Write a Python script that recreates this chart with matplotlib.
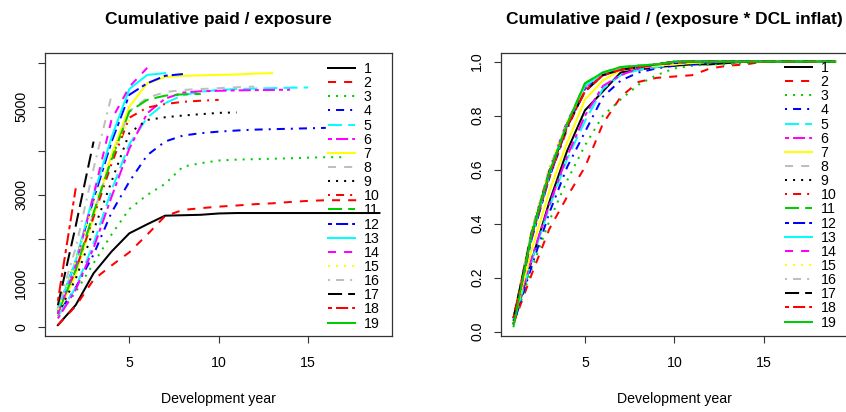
import matplotlib
matplotlib.use("Agg")
import matplotlib.pyplot as plt

plt.rcParams['font.family'] = ['Liberation Sans', 'DejaVu Sans']

# cumulative paid / exposure, one row per origin year (dev years 1..n)
paid = [
    [50, 505, 1225, 1715, 2130, 2335, 2530, 2540, 2550, 2580, 2590, 2590, 2590, 2590, 2590, 2590, 2590, 2590, 2590],
    [50, 480, 1080, 1400, 1700, 2100, 2520, 2660, 2700, 2735, 2760, 2790, 2810, 2840, 2865, 2880, 2880, 2880],
    [250, 800, 1450, 2100, 2680, 3000, 3250, 3640, 3720, 3780, 3800, 3810, 3820, 3830, 3845, 3855, 3855],
    [300, 900, 1650, 2600, 3300, 3900, 4210, 4345, 4400, 4435, 4460, 4480, 4490, 4500, 4510, 4520],
    [250, 900, 1900, 3100, 4150, 4750, 5080, 5260, 5340, 5380, 5400, 5410, 5420, 5430, 5435],
    [200, 850, 1800, 2950, 4050, 4850, 5180, 5320, 5350, 5360, 5370, 5375, 5380, 5385],
    [300, 1200, 2500, 3900, 5000, 5530, 5670, 5700, 5710, 5720, 5730, 5750, 5760],
    [350, 1300, 2600, 3800, 4900, 5200, 5330, 5380, 5400, 5420, 5440, 5455],
    [300, 1100, 2200, 3300, 4400, 4700, 4760, 4800, 4830, 4860, 4870],
    [350, 1300, 2500, 3700, 4750, 4980, 5060, 5110, 5135, 5155],
    [350, 1300, 2600, 3800, 4890, 5155, 5250, 5280, 5290],
    [400, 1500, 2900, 4200, 5270, 5530, 5700, 5740],
    [400, 1500, 3000, 4300, 5400, 5720, 5760],
    [300, 1400, 3000, 4700, 5450, 5880],
    [400, 1500, 2800, 3900, 4700],
    [450, 1800, 3600, 5250],
    [500, 2300, 4210],
    [600, 3150],
    [150],
]

# cumulative paid / (exposure * DCL inflation), full development
ratio = [
    [0.03, 0.26, 0.48, 0.67, 0.82, 0.89, 0.96, 0.97, 0.98, 0.985, 0.99, 0.99, 0.995, 1.0, 1.0, 1.0, 1.0, 1.0, 1.0],
    [0.03, 0.21, 0.38, 0.50, 0.61, 0.77, 0.87, 0.925, 0.94, 0.945, 0.95, 0.975, 0.985, 0.99, 1.0, 1.0, 1.0, 1.0, 1.0],
    [0.03, 0.23, 0.41, 0.56, 0.69, 0.80, 0.86, 0.915, 0.95, 0.975, 0.985, 0.99, 0.99, 0.995, 1.0, 1.0, 1.0, 1.0, 1.0],
    [0.03, 0.24, 0.44, 0.61, 0.74, 0.87, 0.93, 0.96, 0.975, 0.985, 0.99, 0.995, 1.0, 1.0, 1.0, 1.0, 1.0, 1.0, 1.0],
    [0.04, 0.26, 0.46, 0.64, 0.78, 0.90, 0.95, 0.97, 0.98, 0.99, 0.995, 1.0, 1.0, 1.0, 1.0, 1.0, 1.0, 1.0, 1.0],
    [0.04, 0.27, 0.47, 0.65, 0.80, 0.91, 0.95, 0.975, 0.985, 0.99, 1.0, 1.0, 1.0, 1.0, 1.0, 1.0, 1.0, 1.0, 1.0],
    [0.04, 0.30, 0.52, 0.70, 0.86, 0.93, 0.97, 0.98, 0.985, 0.99, 0.995, 1.0, 1.0, 1.0, 1.0, 1.0, 1.0, 1.0, 1.0],
    [0.05, 0.35, 0.58, 0.76, 0.90, 0.95, 0.975, 0.98, 0.99, 0.995, 1.0, 1.0, 1.0, 1.0, 1.0, 1.0, 1.0, 1.0, 1.0],
    [0.05, 0.36, 0.59, 0.77, 0.90, 0.95, 0.97, 0.98, 0.99, 0.995, 1.0, 1.0, 1.0, 1.0, 1.0, 1.0, 1.0, 1.0, 1.0],
    [0.05, 0.35, 0.57, 0.75, 0.90, 0.95, 0.975, 0.985, 0.99, 0.995, 1.0, 1.0, 1.0, 1.0, 1.0, 1.0, 1.0, 1.0, 1.0],
    [0.05, 0.36, 0.59, 0.77, 0.92, 0.96, 0.98, 0.985, 0.99, 1.0, 1.0, 1.0, 1.0, 1.0, 1.0, 1.0, 1.0, 1.0, 1.0],
    [0.04, 0.34, 0.57, 0.76, 0.90, 0.95, 0.975, 0.98, 0.99, 0.995, 1.0, 1.0, 1.0, 1.0, 1.0, 1.0, 1.0, 1.0, 1.0],
    [0.05, 0.35, 0.58, 0.77, 0.91, 0.955, 0.975, 0.985, 0.99, 1.0, 1.0, 1.0, 1.0, 1.0, 1.0, 1.0, 1.0, 1.0, 1.0],
    [0.05, 0.37, 0.60, 0.78, 0.90, 0.95, 0.97, 0.98, 0.99, 1.0, 1.0, 1.0, 1.0, 1.0, 1.0, 1.0, 1.0, 1.0, 1.0],
    [0.06, 0.38, 0.61, 0.78, 0.89, 0.95, 0.97, 0.98, 0.99, 1.0, 1.0, 1.0, 1.0, 1.0, 1.0, 1.0, 1.0, 1.0, 1.0],
    [0.05, 0.37, 0.60, 0.77, 0.90, 0.95, 0.975, 0.985, 0.99, 1.0, 1.0, 1.0, 1.0, 1.0, 1.0, 1.0, 1.0, 1.0, 1.0],
    [0.05, 0.36, 0.59, 0.76, 0.89, 0.95, 0.97, 0.98, 0.99, 1.0, 1.0, 1.0, 1.0, 1.0, 1.0, 1.0, 1.0, 1.0, 1.0],
    [0.05, 0.35, 0.58, 0.76, 0.89, 0.95, 0.97, 0.98, 0.99, 1.0, 1.0, 1.0, 1.0, 1.0, 1.0, 1.0, 1.0, 1.0, 1.0],
    [0.02, 0.36, 0.59, 0.77, 0.92, 0.96, 0.98, 0.985, 0.99, 1.0, 1.0, 1.0, 1.0, 1.0, 1.0, 1.0, 1.0, 1.0, 1.0],
]

labels = [str(i + 1) for i in range(len(paid))]

# R default palette and line types (matplot cycling)
palette = ['black', '#FF0000', '#00CD00', '#0000FF', '#00FFFF', '#FF00FF', '#FFFF00', '#BEBEBE']
ltys = ['-', (0, (4, 4)), (0, (1, 3)), (0, (1, 3, 4, 3)), (0, (7, 3)), (0, (2, 2, 6, 2))]

fig = plt.figure(figsize=(8.46, 4.12), dpi=100)
W, H = 846.0, 412.0
ax1 = fig.add_axes([45 / W, 1 - 336 / H, 347.3 / W, 282.7 / H])
ax2 = fig.add_axes([500.7 / W, 1 - 336 / H, 347.3 / W, 282.7 / H])

fs = 10.2
lw = 1.45


def draw(ax, data):
    for i, row in enumerate(data):
        xs = list(range(1, len(row) + 1))
        ax.plot(xs, row, color=palette[i % 8], linestyle=ltys[i % 6], lw=lw,
                dash_capstyle='butt', label=labels[i])
    ax.set_xlim(0.28, 19.72)
    ax.set_xticks([5, 10, 15])
    for s in ax.spines.values():
        s.set_color('#333333')
        s.set_linewidth(0.9)
    ax.tick_params(length=5, width=0.8, color='#333333', labelsize=fs, pad=9.5)
    ax.tick_params(axis='y', labelrotation=90, pad=7)
    for lab in ax.get_yticklabels():
        lab.set_va('center')
    leg = ax.legend(loc='upper left', frameon=False, fontsize=fs,
                    handlelength=1.9, handletextpad=0.6, labelspacing=0.01,
                    borderpad=0, borderaxespad=0)
    return leg


ax1.set_ylim(-197, 6210)
ax1.set_yticks([0, 1000, 2000, 3000, 4000, 5000, 6000])
ax1.set_yticklabels(['0', '1000', '', '3000', '', '5000', ''])
draw(ax1, paid)
ax1.get_legend().set_bbox_to_anchor((328 / W, 1 - 62 / H), transform=fig.transFigure)

ax2.set_ylim(-0.016, 1.031)
ax2.set_yticks([0, 0.2, 0.4, 0.6, 0.8, 1.0])
ax2.set_yticklabels(['0.0', '0.2', '0.4', '0.6', '0.8', '1.0'])
draw(ax2, ratio)
ax2.get_legend().set_bbox_to_anchor((785 / W, 1 - 61 / H), transform=fig.transFigure)

fig.text(218.5 / W, 1 - 19.5 / H, 'Cumulative paid / exposure', ha='center', va='center',
         fontsize=12.5, fontweight='bold')
fig.text(674 / W, 1 - 19.5 / H, 'Cumulative paid / (exposure * DCL inflat)', ha='center',
         va='center', fontsize=12.5, fontweight='bold')
fig.text(218.5 / W, 1 - 399 / H, 'Development year', ha='center', va='center', fontsize=fs)
fig.text(674 / W, 1 - 399 / H, 'Development year', ha='center', va='center', fontsize=fs)

fig.savefig('out.png', dpi=100)
